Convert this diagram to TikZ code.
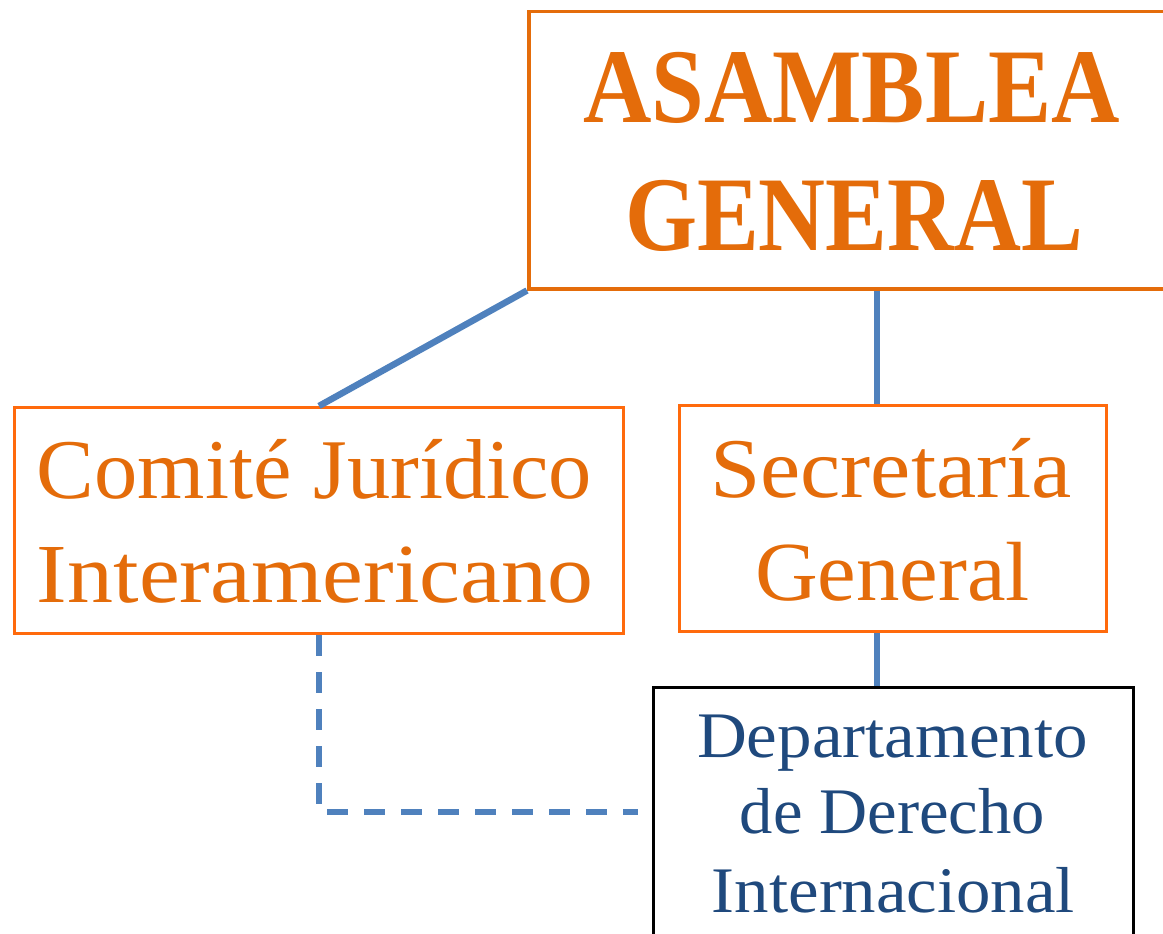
\documentclass[tikz,border=0pt]{standalone}
\usepackage{fontspec}
\setmainfont{Liberation Serif}
\usepackage{graphicx}
\definecolor{orangetxt}{HTML}{E46C0A}
\definecolor{orangeline}{HTML}{FF6A0C}
\definecolor{blueline}{HTML}{4F81BD}
\definecolor{bluetxt}{HTML}{1F497D}
\newcommand\fitw[2]{\resizebox{#1}{\height}{#2}}
\tikzset{
  box/.style={draw=orangeline, line width=3pt, inner sep=0pt, anchor=north west},
  deptbox/.style={draw=black, line width=2.5pt, inner sep=0pt, anchor=north west},
  txt/.style={inner sep=0pt, anchor=base},
  conn/.style={draw=blueline, line width=6.5pt},
  dconn/.style={draw=blueline, line width=6pt, dash pattern=on 21pt off 16pt},
}
\begin{document}
\begin{tikzpicture}[x=1pt,y=-1pt]
\useasboundingbox (0,0) rectangle (1163,934);
% boxes
\node[box, draw=orangetxt, line width=3.5pt, minimum width=696pt, minimum height=277pt] (ag) at (527,10) {};
\node[box, minimum width=609pt, minimum height=226pt] (cj) at (13,406) {};
\node[box, minimum width=427pt, minimum height=226pt] (sg) at (678,404) {};
\node[deptbox, minimum width=480pt, minimum height=300pt] (dd) at (652,686) {};
% texts
\node[txt, text=orangetxt, font=\fontsize{106}{106}\selectfont\bfseries] (t1) at (851.5,122) {\fitw{537pt}{ASAMBLEA}};
\node[txt, text=orangetxt, font=\fontsize{106}{106}\selectfont\bfseries] (t2) at (854,250) {\fitw{458pt}{GENERAL}};
\node[txt, text=orangetxt, font=\fontsize{85}{85}\selectfont] (t3) at (314.5,498) {\fitw{555pt}{Comité Jurídico}};
\node[txt, text=orangetxt, font=\fontsize{84}{84}\selectfont] (t4) at (315,602) {\fitw{556pt}{Interamericano}};
\node[txt, text=orangetxt, font=\fontsize{85}{85}\selectfont] (t5) at (891,497) {\fitw{362pt}{Secretaría}};
\node[txt, text=orangetxt, font=\fontsize{84}{84}\selectfont] (t6) at (892.5,600) {\fitw{275pt}{General}};
\node[txt, text=bluetxt, font=\fontsize{65}{65}\selectfont] (t7) at (892.5,757) {\fitw{391pt}{Departamento}};
\node[txt, text=bluetxt, font=\fontsize{65}{65}\selectfont] (t8) at (892.5,833) {\fitw{305pt}{de Derecho}};
\node[txt, text=bluetxt, font=\fontsize{65}{65}\selectfont] (t9) at (893.5,912) {\fitw{363pt}{Internacional}};
% connectors
\coordinate (dend) at (638,812);
\draw[conn] (ag.south west) -- (cj.north);
\draw[conn] (ag.south) -- (ag.south |- sg.north);
\draw[conn] (ag.south |- sg.south) -- (ag.south |- dd.north);
\draw[dconn] (cj.south) |- (dend);
\end{tikzpicture}
\end{document}
